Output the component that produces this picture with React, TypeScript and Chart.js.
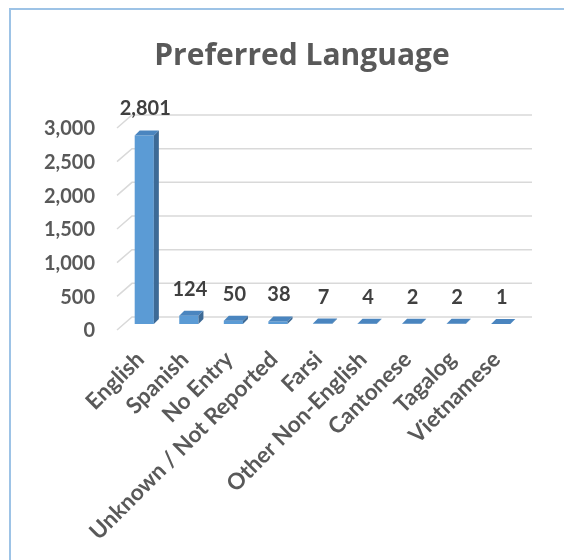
import React, { useEffect, useRef } from "react";
import { Chart, registerables } from "chart.js";

Chart.register(...registerables);

const categories = [
  "English",
  "Spanish",
  "No Entry",
  "Unknown / Not Reported",
  "Farsi",
  "Other Non-English",
  "Cantonese",
  "Tagalog",
  "Vietnamese",
];
const counts = [2801, 124, 50, 38, 7, 4, 2, 2, 1];
const yMin = 0;
const yMax = 3000;
const yStep = 500;
const titleText = "Preferred Language";

const FONT = "Lato, 'Open Sans', sans-serif";
const TITLE_FONT = "'Open Sans', Lato, sans-serif";
const DX = 5;
const DY = -5;

const fmt = (v: number) => Number(v).toLocaleString("en-US");

const wallPlugin = {
  id: "wall3d",
  beforeDatasetsDraw(chart: any) {
    const { ctx, chartArea } = chart;
    const ys = chart.scales.y;
    ctx.save();
    ctx.strokeStyle = "#d9d9d9";
    ctx.lineWidth = 1.5;
    ys.ticks.forEach((t: any) => {
      const py = ys.getPixelForValue(t.value);
      ctx.beginPath();
      ctx.moveTo(chartArea.left - 5, py + 6);
      ctx.lineTo(chartArea.left + 10, py - 7);
      ctx.lineTo(chartArea.right + 9, py - 7);
      ctx.stroke();
    });
    ctx.restore();
  },
};

const barFacePlugin = {
  id: "barFaces",
  afterDatasetsDraw(chart: any) {
    const { ctx } = chart;
    const meta = chart.getDatasetMeta(0);
    const data = chart.data.datasets[0].data;
    ctx.save();
    meta.data.forEach((bar: any, i: number) => {
      const { x, y, base, width } = bar.getProps(["x", "y", "base", "width"], true);
      const x1 = x - width / 2;
      const x2 = x + width / 2;
      // top face
      ctx.fillStyle = "#4a85bf";
      ctx.beginPath();
      ctx.moveTo(x1, y);
      ctx.lineTo(x2, y);
      ctx.lineTo(x2 + DX, y + DY);
      ctx.lineTo(x1 + DX, y + DY);
      ctx.closePath();
      ctx.fill();
      // side face
      ctx.fillStyle = "#3d6a96";
      ctx.beginPath();
      ctx.moveTo(x2, y);
      ctx.lineTo(x2 + DX, y + DY);
      ctx.lineTo(x2 + DX, base + DY);
      ctx.lineTo(x2, base);
      ctx.closePath();
      ctx.fill();
      // value label
      ctx.fillStyle = "#404040";
      ctx.font = `bold 20px ${FONT}`;
      ctx.textAlign = "center";
      ctx.textBaseline = "alphabetic";
      ctx.fillText(fmt(data[i]), x + 1, y - 20);
    });
    ctx.restore();
  },
};

export default function App() {
  const canvasRef = useRef<HTMLCanvasElement | null>(null);

  useEffect(() => {
    if (!canvasRef.current) return;
    const chart = new Chart(canvasRef.current, {
      type: "bar",
      data: {
        labels: categories,
        datasets: [
          {
            data: counts,
            backgroundColor: "#5b9bd5",
            borderWidth: 0,
            barPercentage: 0.43,
            categoryPercentage: 1,
          },
        ],
      },
      options: {
        animation: false,
        responsive: true,
        maintainAspectRatio: false,
        layout: { padding: { left: 40, right: 0, top: 0, bottom: 0 } },
        plugins: {
          legend: { display: false },
          tooltip: { enabled: false },
          title: {
            display: true,
            text: titleText,
            color: "#595959",
            font: { family: TITLE_FONT, size: 30, weight: "bold" },
            padding: { top: 38.5, bottom: 47.5 },
          },
        },
        scales: {
          x: {
            grid: { display: false, drawTicks: false },
            border: { display: false },
            ticks: {
              autoSkip: false,
              maxRotation: 45,
              minRotation: 45,
              padding: 22,
              labelOffset: -4,
              color: "#595959",
              font: { family: FONT, size: 22.5, weight: "bold" },
            },
            afterFit: (s: any) => {
              s.height = 236;
            },
          },
          y: {
            min: yMin,
            max: yMax,
            grid: { display: false, drawTicks: false },
            border: { display: false },
            ticks: {
              stepSize: yStep,
              padding: 27,
              labelOffset: 7,
              color: "#595959",
              font: { family: FONT, size: 20, weight: "bold" },
              callback: (v: any) => fmt(v),
            },
            afterFit: (s: any) => {
              s.width = 82;
            },
          },
          rightGap: {
            type: "linear",
            position: "right",
            display: true,
            grid: { display: false, drawTicks: false },
            border: { display: false },
            ticks: { display: false },
            afterFit: (s: any) => {
              s.width = 41;
            },
          },
        },
      },
      plugins: [wallPlugin, barFacePlugin],
    });
    return () => chart.destroy();
  }, []);

  return (
    <div style={{ position: "fixed", left: 0, top: 0, width: 564, height: 560, background: "#fff" }}>
      <div
        style={{
          position: "absolute",
          left: 9,
          top: 8,
          width: 560,
          height: 560,
          borderTop: "2px solid #9dc3e6",
          borderLeft: "2px solid #9dc3e6",
          pointerEvents: "none",
        }}
      />
      <canvas ref={canvasRef} style={{ position: "absolute", left: 0, top: 0 }} />
    </div>
  );
}
